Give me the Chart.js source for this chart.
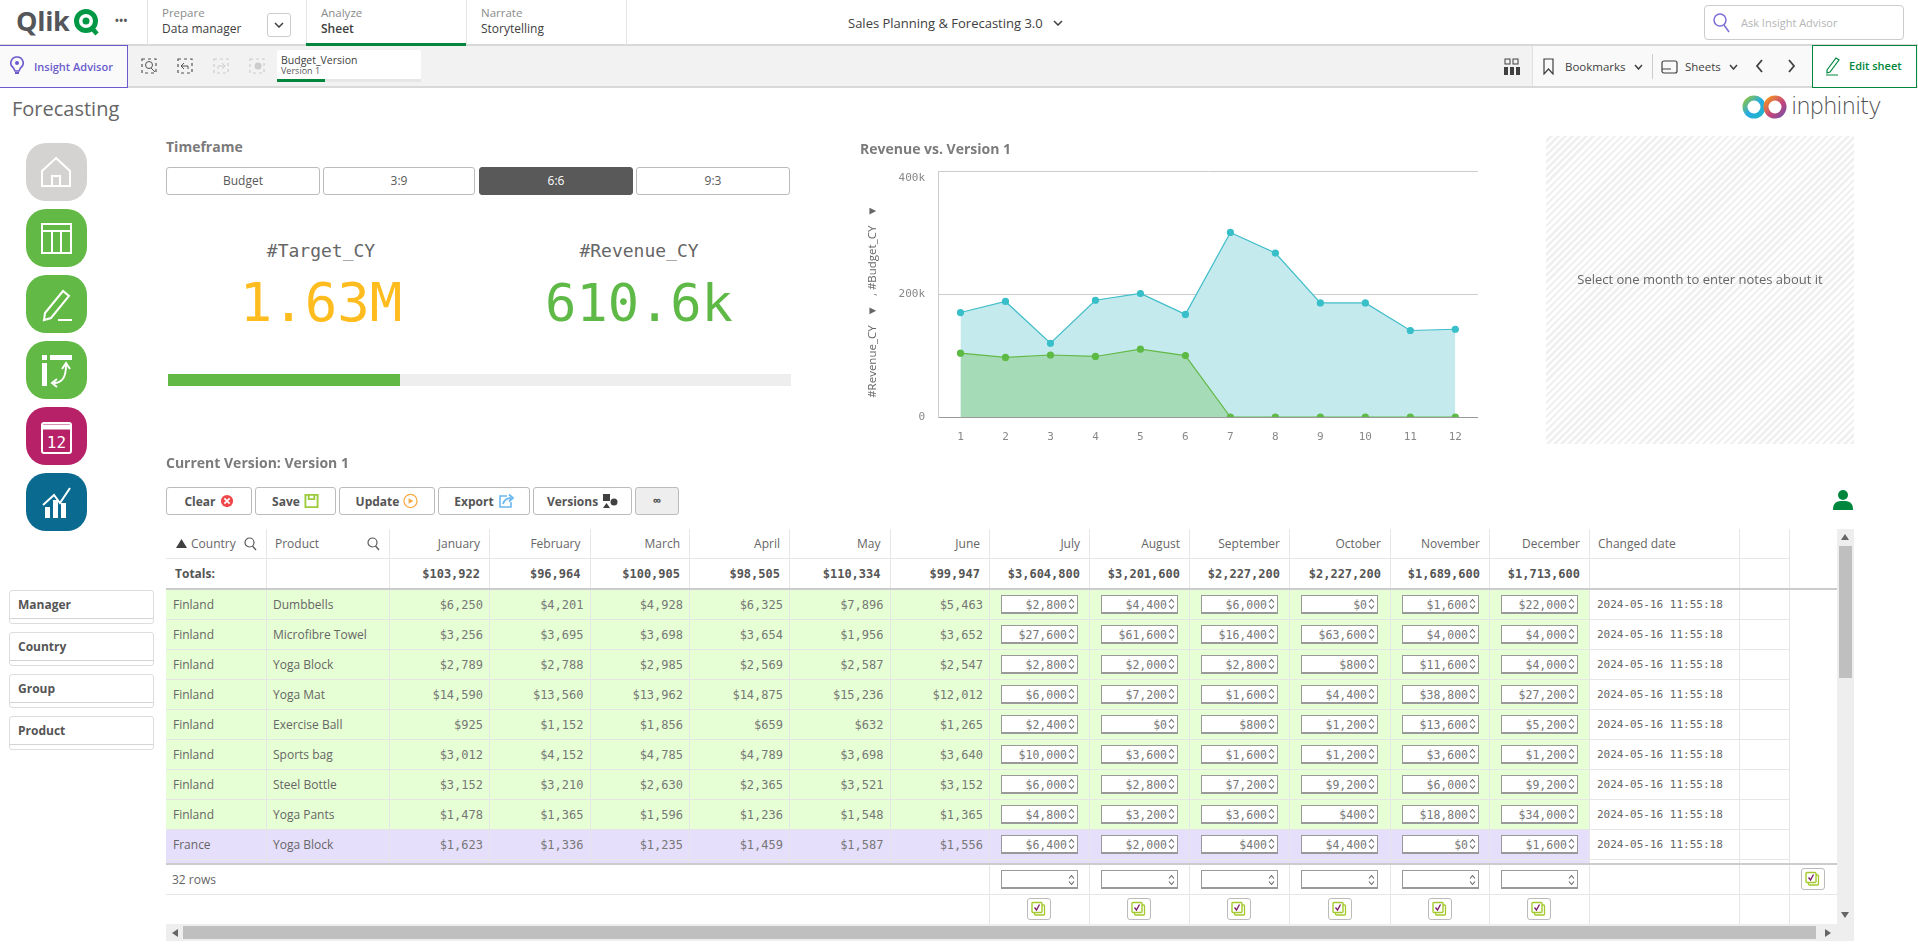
<!DOCTYPE html>
<html>
<head>
<meta charset="utf-8">
<title>Forecasting</title>
<script src="https://cdn.jsdelivr.net/npm/chart.js@4/dist/chart.umd.js"></script>
<style>
    html, body { margin: 0; padding: 0; background: #fff; overflow: hidden; }
    #page { position: relative; width: 1918px; height: 947px; overflow: hidden; font-family: "Open Sans", sans-serif; color: #595959; }
    #page div { white-space: nowrap; box-sizing: border-box; }
    #page svg { display: block; }
    canvas { position: absolute; left: 866px; top: 145px; }
</style>
</head>
<body>
<div id="page"><canvas id="revenueChart" width="617" height="302"></canvas></div>
<script>
// Chart data
const categories = ['1', '2', '3', '4', '5', '6', '7', '8', '9', '10', '11', '12'];
const revenueCY = [103922, 96964, 100905, 98505, 110334, 99947, 0, 0, 0, 0, 0, 0];
const budgetCY = [170000, 188000, 120000, 190000, 201000, 167000, 300400, 266800, 185600, 185600, 140800, 142800];
const yTickValues = [0, 200000, 400000];
const yTickLabels = ['0', '200k', '400k'];

// Table data
const monthNames = ['January', 'February', 'March', 'April', 'May', 'June', 'July', 'August', 'September', 'October', 'November', 'December'];
const monthTotals = [103922, 96964, 100905, 98505, 110334, 99947, 3604800, 3201600, 2227200, 2227200, 1689600, 1713600];
const rowCountries = ['Finland', 'Finland', 'Finland', 'Finland', 'Finland', 'Finland', 'Finland', 'Finland', 'France'];
const rowProducts = ['Dumbbells', 'Microfibre Towel', 'Yoga Block', 'Yoga Mat', 'Exercise Ball', 'Sports bag', 'Steel Bottle', 'Yoga Pants', 'Yoga Block'];
const rowActuals = [
    [6250, 4201, 4928, 6325, 7896, 5463],
    [3256, 3695, 3698, 3654, 1956, 3652],
    [2789, 2788, 2985, 2569, 2587, 2547],
    [14590, 13560, 13962, 14875, 15236, 12012],
    [925, 1152, 1856, 659, 632, 1265],
    [3012, 4152, 4785, 4789, 3698, 3640],
    [3152, 3210, 2630, 2365, 3521, 3152],
    [1478, 1365, 1596, 1236, 1548, 1365],
    [1623, 1336, 1235, 1459, 1587, 1556]
];
const rowPlan = [
    [2800, 4400, 6000, 0, 1600, 22000],
    [27600, 61600, 16400, 63600, 4000, 4000],
    [2800, 2000, 2800, 800, 11600, 4000],
    [6000, 7200, 1600, 4400, 38800, 27200],
    [2400, 0, 800, 1200, 13600, 5200],
    [10000, 3600, 1600, 1200, 3600, 1200],
    [6000, 2800, 7200, 9200, 6000, 9200],
    [4800, 3200, 3600, 400, 18800, 34000],
    [6400, 2000, 400, 4400, 0, 1600]
];
const changedDate = '2024-05-16 11:55:18';
const timeframes = ['Budget', '3:9', '6:6', '9:3'];
const filterNames = ['Manager', 'Country', 'Group', 'Product'];

const page = document.getElementById('page');
const MONO = '"DejaVu Sans Mono", monospace';

function put(x, y, w, h, css, text) {
    const d = document.createElement('div');
    d.style.cssText = `position:absolute;left:${x}px;top:${y}px;width:${w}px;height:${h}px;` + (css || '');
    if (text !== undefined) d.textContent = text;
    page.appendChild(d);
    return d;
}

function label(x, cy, text, css) {
    return put(x, cy - 10, 0, 20, 'line-height:20px;' + (css || ''), text);
}

function labelRight(right, cy, text, css) {
    return put(right - 300, cy - 10, 300, 20, 'line-height:20px;text-align:right;' + (css || ''), text);
}

function labelCenter(cx, cy, text, css) {
    return put(cx - 150, cy - 15, 300, 30, 'line-height:30px;text-align:center;' + (css || ''), text);
}

function icon(x, y, w, h, inner) {
    const d = put(x, y, w, h);
    d.innerHTML = `<svg width="${w}" height="${h}" viewBox="0 0 ${w} ${h}">${inner}</svg>`;
    return d;
}

function money(v) {
    return '$' + v.toLocaleString('en-US');
}

function drawTopBars() {
    put(0, 44, 1918, 2, 'background:#d9d9d9');
    put(0, 46, 1918, 41, 'background:#f2f2f2');
    put(0, 86, 1918, 2, 'background:#d9d9d9');
    [147, 306, 466, 626].forEach(x => put(x, 0, 1, 45, 'background:#e4e4e4'));
    put(306, 43, 160, 3, 'background:#00873d');

    // logo
    label(16, 21, 'Qlik', 'font-size:27px;font-weight:700;color:#54565a;letter-spacing:-.3px');
    icon(72, 7, 30, 30, '<circle cx="14" cy="14" r="9.5" fill="none" stroke="#009845" stroke-width="5"/><circle cx="14" cy="14" r="3.5" fill="#009845"/><path d="M19 20 L25 27" stroke="#009845" stroke-width="4.5"/>');
    label(115, 20, '•••', 'font-size:10px;color:#595959;letter-spacing:.5px;font-weight:700');

    label(162, 13, 'Prepare', 'font-size:11.5px;color:#8c8c8c');
    label(162, 29, 'Data manager', 'font-size:12px;color:#404040');
    put(267, 13, 24, 24, 'border:1px solid #ccc;border-radius:3px;background:#fff');
    icon(274, 22, 10, 6, '<path d="M1 1 L5 5 L9 1" fill="none" stroke="#404040" stroke-width="1.5"/>');
    label(321, 13, 'Analyze', 'font-size:11.5px;color:#8c8c8c');
    label(321, 29, 'Sheet', 'font-size:12px;color:#404040;font-weight:600');
    label(481, 13, 'Narrate', 'font-size:11.5px;color:#8c8c8c');
    label(481, 29, 'Storytelling', 'font-size:12px;color:#404040');

    label(848, 23, 'Sales Planning & Forecasting 3.0', 'font-size:13px;color:#404040');
    icon(1053, 20, 10, 6, '<path d="M1 1 L5 5 L9 1" fill="none" stroke="#404040" stroke-width="1.5"/>');

    put(1704, 5, 200, 35, 'border:1px solid #ccc;border-radius:4px;background:#fff');
    icon(1712, 12, 20, 22, '<circle cx="8" cy="8" r="6" fill="none" stroke="#7a6fd0" stroke-width="1.5"/><path d="M12 13 L17 20" stroke="#7a6fd0" stroke-width="1.5"/>');
    label(1741, 23, 'Ask Insight Advisor', 'font-size:11px;color:#b5b5b5');

    // second row
    put(0, 45, 128, 43, 'background:#fafafa;border:1px solid #6a5acd;border-left:none');
    icon(9, 56, 16, 20, '<path d="M8 1 a6 6 0 0 1 3.5 11 L10 15 H6 L4.5 12 A6 6 0 0 1 8 1 Z" fill="none" stroke="#6a5acd" stroke-width="1.6"/><circle cx="8" cy="7" r="2" fill="#6a5acd"/><rect x="6" y="16" width="4" height="2" fill="#6a5acd"/>');
    label(34, 67, 'Insight Advisor', 'font-size:11px;color:#6a5acd;font-weight:600');
    const dash = 'fill="none" stroke-dasharray="3 3" stroke-width="1.2"';
    icon(141, 58, 17, 16, `<rect x="1" y="1" width="14" height="14" ${dash} stroke="#555"/><circle cx="8" cy="7" r="3.5" fill="none" stroke="#555"/><path d="M10 10 L14 14" stroke="#555"/>`);
    icon(177, 58, 17, 16, `<rect x="1" y="1" width="14" height="14" ${dash} stroke="#555"/><path d="M11 11 V8 H5 M7 5 L4 8 L7 11" fill="none" stroke="#555"/>`);
    icon(213, 58, 17, 16, `<rect x="1" y="1" width="14" height="14" ${dash} stroke="#ccc"/><path d="M5 11 V8 H11 M9 5 L12 8 L9 11" fill="none" stroke="#ccc"/>`);
    icon(249, 58, 17, 16, `<rect x="1" y="1" width="14" height="14" ${dash} stroke="#ccc"/><circle cx="9" cy="8" r="3.5" fill="#ccc"/>`);
    put(277, 50, 144, 32, 'background:#fff;border-radius:2px');
    label(281, 60, 'Budget_Version', 'font-size:10.5px;color:#404040');
    label(281, 71, 'Version 1', 'font-size:9px;color:#595959');
    put(277, 79, 144, 3, 'background:#e6e6e6');
    put(277, 79, 48, 3, 'background:#00873d');

    put(1532, 46, 280, 40, 'background:#f9f9f9;border-left:1px solid #e0e0e0');
    icon(1503, 58, 18, 18, '<rect x="2" y="1" width="5" height="5" fill="none" stroke="#404040"/><rect x="10" y="1" width="5" height="5" fill="none" stroke="#404040"/><rect x="1" y="9" width="4" height="8" fill="#404040"/><rect x="7" y="9" width="4" height="8" fill="#404040"/><rect x="13" y="9" width="4" height="8" fill="#404040"/>');
    icon(1543, 58, 11, 17, '<path d="M1 1 H10 V16 L5.5 11 L1 16 Z" fill="none" stroke="#404040" stroke-width="1.2"/>');
    label(1565, 67, 'Bookmarks', 'font-size:11.5px;color:#404040');
    icon(1634, 64, 9, 6, '<path d="M1 1 L4.5 5 L8 1" fill="none" stroke="#404040" stroke-width="1.5"/>');
    put(1652, 54, 1, 25, 'background:#ccc');
    icon(1661, 60, 17, 14, '<rect x="1" y="1" width="15" height="12" rx="2" fill="none" stroke="#404040" stroke-width="1.2"/><path d="M1 9 H10" stroke="#404040"/>');
    label(1685, 67, 'Sheets', 'font-size:11.5px;color:#404040');
    icon(1729, 64, 9, 6, '<path d="M1 1 L4.5 5 L8 1" fill="none" stroke="#404040" stroke-width="1.5"/>');
    icon(1755, 58, 9, 16, '<path d="M7 2 L2 8 L7 14" fill="none" stroke="#404040" stroke-width="1.8"/>');
    icon(1787, 58, 9, 16, '<path d="M2 2 L7 8 L2 14" fill="none" stroke="#404040" stroke-width="1.8"/>');
    put(1812, 45, 105, 43, 'background:#fff;border:1px solid #00873d');
    icon(1824, 56, 18, 20, '<path d="M3 14 L12 2 L15 4 L6 16 L3 17 Z" fill="none" stroke="#00873d" stroke-width="1.2"/><path d="M2 19 H14" stroke="#00873d"/>');
    label(1849, 66, 'Edit sheet', 'font-size:11px;color:#00873d;font-weight:600');

    label(12, 109, 'Forecasting', 'font-size:20px;color:#666');

    // inphinity logo
    icon(1742, 94, 50, 26, `<defs><linearGradient id="infA" x1="0" x2="1" y1="0" y2="1"><stop offset="0" stop-color="#8cc63f"/><stop offset=".5" stop-color="#29abe2"/><stop offset="1" stop-color="#1fb6c9"/></linearGradient><linearGradient id="infB" x1="0" x2="1" y1="0" y2="1"><stop offset="0" stop-color="#f7931e"/><stop offset=".6" stop-color="#c1447e"/><stop offset="1" stop-color="#7b4fa0"/></linearGradient></defs><circle cx="12" cy="13" r="9" fill="none" stroke="url(#infA)" stroke-width="5"/><circle cx="33" cy="13" r="9" fill="none" stroke="url(#infB)" stroke-width="5"/>`);
    label(1791, 106, 'inphinity', 'font-size:23px;color:#4d4d4d;font-family:"DejaVu Sans",sans-serif;font-weight:300;letter-spacing:-1.2px');
}

function drawSideNav() {
    const white = 'fill="none" stroke="#fff" stroke-width="2"';
    const navIcons = [
        ['#d4d3d2', `<path d="M30 15 L44 28 V43 H16 V28 Z M26 43 V33 H34 V43" ${white}/>`],
        ['#62b946', `<rect x="16" y="15" width="29" height="29" ${white}/><path d="M16 22 H45 M26 22 V44 M35 22 V44" ${white}/>`],
        ['#62b946', `<path d="M19 38 L37 16 L43 21 L25 43 L18 45 Z" ${white}/><path d="M32 45 H46" ${white}/>`],
        ['#62b946', `<rect x="16" y="14" width="5" height="5" fill="#fff"/><rect x="24" y="14" width="22" height="5" fill="#fff"/><rect x="16" y="22" width="5" height="23" fill="#fff"/><path d="M28 42 C38 42 40 34 40 24 M36 28 L40 22 L44 28 M31 38 L26 42 L31 46" ${white}/>`],
        ['#b72167', `<rect x="16" y="16" width="29" height="30" rx="2" ${white}/><path d="M16 20 H45" stroke="#fff" stroke-width="5"/><text x="30.5" y="41" font-size="16" text-anchor="middle" fill="#fff" font-family="DejaVu Sans Mono">12</text>`],
        ['#0b6a8f', `<path d="M17 32 L28 22 L34 30 L44 15" ${white}/><rect x="19" y="34" width="5" height="11" fill="#fff"/><rect x="27" y="27" width="5" height="18" fill="#fff"/><rect x="35" y="30" width="5" height="15" fill="#fff"/>`]
    ];
    navIcons.forEach(([color, inner], i) => {
        put(26, 143 + i * 66, 61, 58, `background:${color};border-radius:20px`);
        icon(26, 143 + i * 66, 61, 58, inner);
    });

    filterNames.forEach((name, i) => {
        const y = 590 + i * 42;
        put(9, y, 145, 34, 'border:1px solid #ddd;border-radius:3px;background:#fff');
        put(10, y + 28, 143, 1, 'background:#d4d4d4');
        label(18, y + 15, name, 'font-size:12px;font-weight:700;color:#555');
    });
}

function drawKpis() {
    label(166, 147, 'Timeframe', 'font-size:14px;font-weight:700;color:#7b7b7b');
    const btnX = [166, 323, 479, 636];
    const btnW = [154, 152, 154, 154];
    timeframes.forEach((name, i) => {
        const active = name === '6:6';
        put(btnX[i], 167, btnW[i], 28, `border:1px solid ${active ? '#595959' : '#bbb'};border-radius:3px;text-align:center;line-height:26px;font-size:12px;background:${active ? '#595959' : '#fff'};color:${active ? '#fff' : '#595959'}`, name);
    });
    labelCenter(321, 251, '#Target_CY', `font-family:${MONO};font-size:18px;color:#666`);
    labelCenter(639, 251, '#Revenue_CY', `font-family:${MONO};font-size:18px;color:#666`);
    labelCenter(321, 303, '1.63M', `font-family:${MONO};font-size:54px;color:#ffbc1f`);
    labelCenter(639, 303, '610.6k', `font-family:${MONO};font-size:52px;color:#5fb946`);
    put(168, 374, 623, 12, 'background:#eee');
    put(168, 374, 232, 12, 'background:#62b946');
}

function drawNotes() {
    label(860, 149, 'Revenue vs. Version 1', 'font-size:14px;font-weight:700;color:#7b7b7b');
    put(1546, 136, 308, 308, 'background:repeating-linear-gradient(135deg,#fff 0,#fff 2.5px,#f0f0f0 2.5px,#f0f0f0 5px)');
    labelCenter(1700, 279, 'Select one month to enter notes about it', 'font-size:13px;color:#666');
}

function drawToolbar() {
    label(166, 463, 'Current Version: Version 1', 'font-size:14px;font-weight:700;color:#7b7b7b');
    const tools = [
        [166, 86, 'Clear', 14, '<circle cx="8" cy="8" r="7" fill="#f0474a"/><path d="M5 5 L11 11 M11 5 L5 11" stroke="#fff" stroke-width="2"/>'],
        [255, 81, 'Save', 15, '<path d="M1.5 1.5 H14.5 V14.5 H1.5 Z M5 1.5 V6 H11 V1.5" fill="none" stroke="#9ccb3b" stroke-width="2"/>'],
        [339, 96, 'Update', 15, '<circle cx="8" cy="8" r="7" fill="none" stroke="#f5a742" stroke-width="1.3"/><path d="M6 5 L11 8 L6 11 Z" fill="#f5a742"/>'],
        [438, 92, 'Export', 16, '<path d="M9 3 H2 V14 H13 V9" fill="none" stroke="#6ab7f0" stroke-width="1.6"/><path d="M5 11 C6 7 9 5 13 5 M11 1.5 L15 5 L11 8.5" fill="none" stroke="#6ab7f0" stroke-width="1.8"/>'],
        [533, 99, 'Versions', 16, '<rect x="1" y="1" width="7" height="7" fill="#404040"/><circle cx="12" cy="9" r="3.5" fill="#404040"/><path d="M1 15 L4.5 10 L8 15 Z" fill="#404040"/>']
    ];
    tools.forEach(([x, w, name, iconW, svg]) => {
        put(x, 487, w, 28, 'border:1px solid #bbb;border-radius:3px;background:#fff');
        const d = put(x, 487, w, 28, 'display:flex;align-items:center;justify-content:center;gap:4px');
        const t = document.createElement('span');
        t.style.cssText = 'font-size:12px;font-weight:700;color:#555';
        t.textContent = name;
        d.appendChild(t);
        const s = document.createElement('span');
        s.innerHTML = `<svg width="${iconW}" height="16" viewBox="0 0 16 16">${svg}</svg>`;
        d.appendChild(s);
    });
    put(635, 487, 44, 28, 'border:1px solid #bbb;border-radius:3px;background:#eee;text-align:center;line-height:26px;font-size:12px;font-weight:700;color:#555', '∞');
    icon(1832, 489, 22, 22, '<circle cx="11" cy="6" r="5" fill="#00873d"/><path d="M1 21 C1 13 5 12 11 12 C17 12 21 13 21 21 Z" fill="#00873d"/>');
}

function spinner(x, y) {
    icon(x, y, 7, 12, '<path d="M1 4.5 L3.5 1.5 L6 4.5 M1 7.5 L3.5 10.5 L6 7.5" fill="none" stroke="#666" stroke-width="1.1"/>');
}

function checkButton(cx, y) {
    put(cx - 12, y, 24, 22, 'border:1px solid #bbb;border-radius:3px;background:#fff');
    icon(cx - 8, y + 3, 16, 16, '<rect x="3.5" y="4" width="10" height="10" rx="1" fill="none" stroke="#a5c92c" stroke-width="1.3"/><rect x="1" y="1.5" width="10" height="10" rx="1" fill="#fff" stroke="#a5c92c" stroke-width="1.4"/><path d="M3.5 6.5 L5.5 9 L8.5 3.5" fill="none" stroke="#7a1a6c" stroke-width="1.3"/>');
}

function drawTable() {
    const edges = [166, 266, 389, 489, 589.5, 689, 789, 889.5, 989, 1089, 1189, 1289, 1390, 1489, 1589, 1739, 1789];
    const rowTop = 589;
    const rowH = 30;
    const monthRight = i => edges[i + 3];

    // row backgrounds
    rowCountries.forEach((c, r) => {
        put(166, rowTop + r * rowH, 1423, rowH, `background:${c === 'France' ? '#e6dffc' : '#e6ffd4'}`);
    });
    put(166, rowTop + 9 * rowH, 1423, 4, 'background:#e6dffc');

    // grid
    edges.slice(1).forEach(x => put(x, 529, 1, 334, 'background:#e6e6e6'));
    edges.slice(8).forEach(x => put(x, 865, 1, 59, 'background:#e6e6e6'));
    put(166, 558, 1623, 1, 'background:#e6e6e6');
    for (let r = 1; r <= 9; r++) put(166, rowTop + r * rowH, 1623, 1, 'background:#e6e6e6');
    put(166, 588, 1671, 2, 'background:#ccc');
    put(166, 863, 1671, 2, 'background:#ccc');
    put(166, 894, 1671, 1, 'background:#e6e6e6');

    // header
    icon(176, 539, 11, 9, '<path d="M0 9 L5.5 0 L11 9 Z" fill="#404040"/>');
    label(191, 544, 'Country', 'font-size:12px;color:#666');
    label(275, 544, 'Product', 'font-size:12px;color:#666');
    [244, 367].forEach(x => icon(x, 537, 13, 14, '<circle cx="5.5" cy="5.5" r="4.5" fill="none" stroke="#595959" stroke-width="1.2"/><path d="M8.5 9 L12 13" stroke="#595959" stroke-width="1.4"/>'));
    monthNames.forEach((m, i) => labelRight(monthRight(i) - 9, 544, m, 'font-size:12px;color:#666'));
    label(1598, 544, 'Changed date', 'font-size:12px;color:#666');

    // totals
    label(175, 574, 'Totals:', 'font-size:12px;font-weight:700;color:#555');
    monthTotals.forEach((v, i) => labelRight(monthRight(i) - 9, 574, money(v), `font-family:${MONO};font-size:12px;font-weight:700;color:#555`));

    // body
    rowCountries.forEach((c, r) => {
        const cy = rowTop + r * rowH + 15.5;
        label(173, cy, c, 'font-size:12px;color:#666');
        label(273, cy, rowProducts[r], 'font-size:12px;color:#666');
        rowActuals[r].forEach((v, i) => labelRight(monthRight(i) - 6, cy, money(v), `font-family:${MONO};font-size:12px;color:#777`));
        rowPlan[r].forEach((v, i) => {
            const x = edges[i + 8] + 12;
            put(x, rowTop + r * rowH + 6, 77, 19, 'background:#fff;border:1px solid #999;border-bottom-width:2px');
            labelRight(x + 66, cy, money(v), `font-family:${MONO};font-size:11.5px;color:#777`);
            spinner(x + 67, rowTop + r * rowH + 9);
        });
        label(1597, cy, changedDate, `font-family:${MONO};font-size:11px;color:#666`);
    });

    // footer rows
    label(172, 880, '32 rows', 'font-size:12px;color:#666');
    for (let i = 0; i < 6; i++) {
        const x = edges[i + 8] + 12;
        put(x, 870, 77, 19, 'background:#fff;border:1px solid #999;border-bottom-width:2px');
        spinner(x + 67, 874);
        checkButton((edges[i + 8] + edges[i + 9]) / 2, 898);
    }
    checkButton(1813, 868);

    // scroll bars
    put(1837, 529, 17, 412, 'background:#eee');
    put(1839, 546, 13, 132, 'background:#bfbfbf');
    icon(1841, 534, 8, 6, '<path d="M0 6 L4 0 L8 6 Z" fill="#666"/>');
    icon(1841, 912, 8, 6, '<path d="M0 0 L4 6 L8 0 Z" fill="#666"/>');
    put(166, 924, 1688, 17, 'background:#eee');
    put(183, 926, 1633, 13, 'background:#bfbfbf');
    icon(172, 929, 6, 8, '<path d="M6 0 L0 4 L6 8 Z" fill="#666"/>');
    icon(1825, 929, 6, 8, '<path d="M0 0 L6 4 L0 8 Z" fill="#666"/>');
}

function drawChart() {
    new Chart(document.getElementById('revenueChart'), {
        type: 'line',
        data: {
            labels: categories,
            datasets: [
                {
                    label: '#Revenue_CY',
                    data: revenueCY,
                    borderColor: '#63b946',
                    backgroundColor: '#a6dbb8',
                    pointBackgroundColor: '#5dba45',
                    pointBorderColor: '#5dba45',
                    borderWidth: 1.2,
                    pointRadius: 3,
                    tension: 0,
                    fill: 'origin'
                },
                {
                    label: '#Budget_CY',
                    data: budgetCY,
                    borderColor: '#3fbdc9',
                    backgroundColor: '#c4eaed',
                    pointBackgroundColor: '#38bfc9',
                    pointBorderColor: '#38bfc9',
                    borderWidth: 1.2,
                    pointRadius: 3,
                    tension: 0,
                    fill: 'origin'
                }
            ]
        },
        options: {
            responsive: false,
            animation: false,
            layout: { padding: { top: 19.8, left: 0, right: 0, bottom: 0 } },
            plugins: { legend: { display: false }, tooltip: { enabled: false } },
            scales: {
                x: {
                    offset: true,
                    afterFit: scale => { scale.height = 30; },
                    grid: { display: false },
                    border: { color: '#999' },
                    ticks: {
                        color: '#888',
                        padding: 6,
                        maxRotation: 0,
                        autoSkip: false,
                        font: { family: MONO, size: 11 }
                    }
                },
                y: {
                    min: 0,
                    max: 400000,
                    afterFit: scale => { scale.width = 72; },
                    afterBuildTicks: scale => { scale.ticks = yTickValues.map(value => ({ value })); },
                    border: { color: '#ccc' },
                    grid: {
                        color: ctx => (ctx.tick && ctx.tick.value === 0 ? '#999' : '#ccc'),
                        drawTicks: false
                    },
                    title: {
                        display: true,
                        text: '#Revenue_CY   ▼   , #Budget_CY   ▼     ',
                        color: '#666',
                        padding: 0,
                        font: { family: '"Open Sans", sans-serif', size: 11.5 }
                    },
                    ticks: {
                        color: '#888',
                        padding: 13,
                        font: { family: MONO, size: 11 },
                        callback: value => {
                            const text = yTickLabels[yTickValues.indexOf(value)];
                            // top label sits under its grid line
                            return value === yTickValues[yTickValues.length - 1] ? ['', text] : text;
                        }
                    }
                }
            }
        }
    });
}

document.addEventListener('DOMContentLoaded', () => {
    drawTopBars();
    drawSideNav();
    drawKpis();
    drawNotes();
    drawToolbar();
    drawTable();
    drawChart();
});
</script>
</body>
</html>
